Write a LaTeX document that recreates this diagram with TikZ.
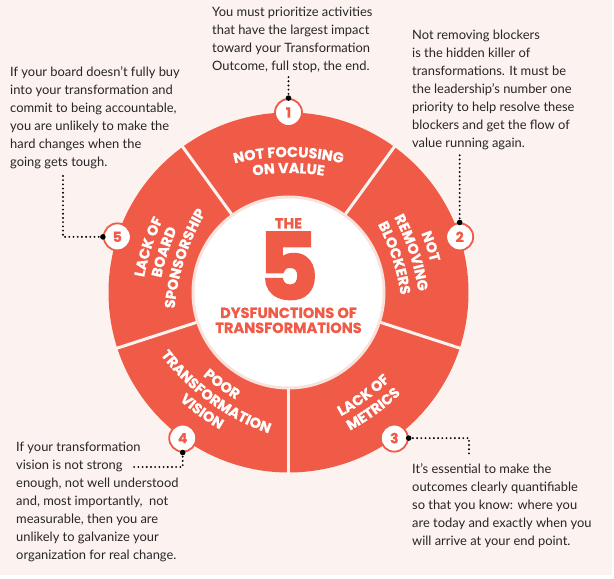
\documentclass[tikz,border=0pt]{standalone}
\usepackage{fontspec}
\setmainfont{Lato}
\newfontfamily\popp{Poppins}[BoldFeatures={FakeBold=0.6}]
\newfontfamily\poppfive{Poppins}[BoldFeatures={FakeBold=3}]
\usetikzlibrary{calc,decorations.text}
\definecolor{redc}{RGB}{239,91,71}
\definecolor{bgc}{RGB}{252,242,239}
\definecolor{palec}{RGB}{250,226,220}
\definecolor{txtc}{RGB}{38,38,38}
\newcommand\lblfont{\popp\bfseries\fontsize{14.4}{14.4}\selectfont}
\newcommand\para[1]{\parbox[t]{200pt}{\fontsize{12.9}{18}\selectfont\raggedright #1}}
\newcommand\toplbl[3]{\path[decorate,decoration={text along path,text={|\lblfont|#3},text align=center,text color=white}] ($(C)+(#1:#2-230)+(#1+40:230)$) arc[start angle=#1+40,end angle=#1-40,radius=230];}
\newcommand\botlbl[3]{\path[decorate,decoration={text along path,text={|\lblfont|#3},text align=center,text color=white}] ($(C)+(#1:#2-230)+(#1-40:230)$) arc[start angle=#1-40,end angle=#1+40,radius=230];}
\tikzset{
  badge/.style={circle,draw=redc,line width=1.8pt,fill=white,minimum size=27pt,inner sep=0pt,font=\popp\bfseries\fontsize{14}{14}\selectfont,text=redc},
  dotline/.style={line width=2.1pt,line cap=round,dash pattern=on 0pt off 4.2pt,draw=black},
  body/.style={anchor=base west,inner sep=0pt,text=txtc},
  center/.style={anchor=base,inner sep=0pt,text=redc,font=\popp\bfseries\fontsize{14.6}{14.6}\selectfont}
}
\begin{document}
\begin{tikzpicture}[x=1pt,y=1pt]
\useasboundingbox (0,0) rectangle (614,579);
\fill[white] (0,0) rectangle (614,579);
\fill[bgc] (0,4) rectangle (612,579);
\coordinate (C) at (288.5,286.5);
\fill[redc] (C) circle (180);
\foreach \a in {54,126,198,270,342} \draw[bgc,line width=3pt] ($(C)+(\a:95)$) -- ($(C)+(\a:182)$);
\fill[palec] (C) circle (97);
\fill[white] (C) circle (94);
% center titles
\node[center] (the) at (288.5,350.5) {THE};
\node[center,font=\poppfive\bfseries\fontsize{91}{91}\selectfont] (five) at (288.5,280) {5};
\fill[white] (289.5,303) circle (4.2);
\node[center] (dys) at (288.5,261) {DYSFUNCTIONS OF};
\node[center] (trans) at (288.5,246) {TRANSFORMATIONS};
% ring labels
\toplbl{90}{135.5}{NOT FOCUSING}
\toplbl{90}{119.5}{ON VALUE}
\toplbl{18}{145}{NOT}
\toplbl{18}{127}{REMOVING}
\toplbl{18}{109}{BLOCKERS}
\toplbl{162}{144}{LACK OF}
\toplbl{162}{127}{BOARD}
\toplbl{162}{109}{SPONSORSHIP}
\botlbl{-54}{133}{LACK OF}
\botlbl{-54}{150}{METRICS}
\botlbl{-126}{118.5}{POOR}
\botlbl{-126}{135.5}{TRANSFORMATION}
\botlbl{-126}{152.5}{VISION}
% badges
\node[badge] (b1) at ($(C)+(90:180)$) {1};
\node[badge] (b2) at ($(C)+(18:180)$) {2};
\node[badge] (b3) at ($(C)+(-54:180)$) {3};
\node[badge] (b4) at ($(C)+(-126:180)$) {4};
\node[badge] (b5) at ($(C)+(162:180)$) {5};
% body texts
\node[body] (t1) at (212,562) {\para{You must prioritize activities\\that have the largest impact\\toward your Transformation\\Outcome, full stop, the end.}};
\node[body] (t2) at (412,539) {\para{Not removing blockers\\is the hidden killer of\\transformations. It must be\\the leadership’s number one\\priority to help resolve these\\blockers and get the flow of\\value running again.}};
\node[body] (t3) at (10,502) {\para{If your board doesn’t fully buy\\into your transformation and\\commit to being accountable,\\you are unlikely to make the\\hard changes when the\\going gets tough.}};
\node[body] (t4) at (16,127) {\para{If your transformation\\vision is not strong\\enough, not well understood\\and, most importantly, \ not\\measurable, then you are\\unlikely to galvanize your\\organization for real change.}};
\node[body] (t5) at (412,105) {\para{It’s essential to make the\\outcomes clearly quantifiable\\so that you know: where you\\are today and exactly when you\\will arrive at your end point.}};
% connectors
\coordinate (e1) at (288.5,502);
\coordinate (e2) at (460,426);
\coordinate (e3) at (469,122);
\coordinate (e4) at (131,112);
\coordinate (e5) at (63,407);
\draw[dotline] (b1.north) -- (b1.north |- e1);
\draw[dotline] (b2.north) -- (b2.north |- e2);
\draw[dotline] (b3.east) -| (e3);
\draw[dotline] (b4.south) |- (e4);
\draw[dotline] (b5.west) -| (e5);
\foreach \n/\an in {b1/north,b2/north,b3/east,b4/south,b5/west} \fill (\n.\an) circle (2.8);
\end{tikzpicture}
\end{document}
